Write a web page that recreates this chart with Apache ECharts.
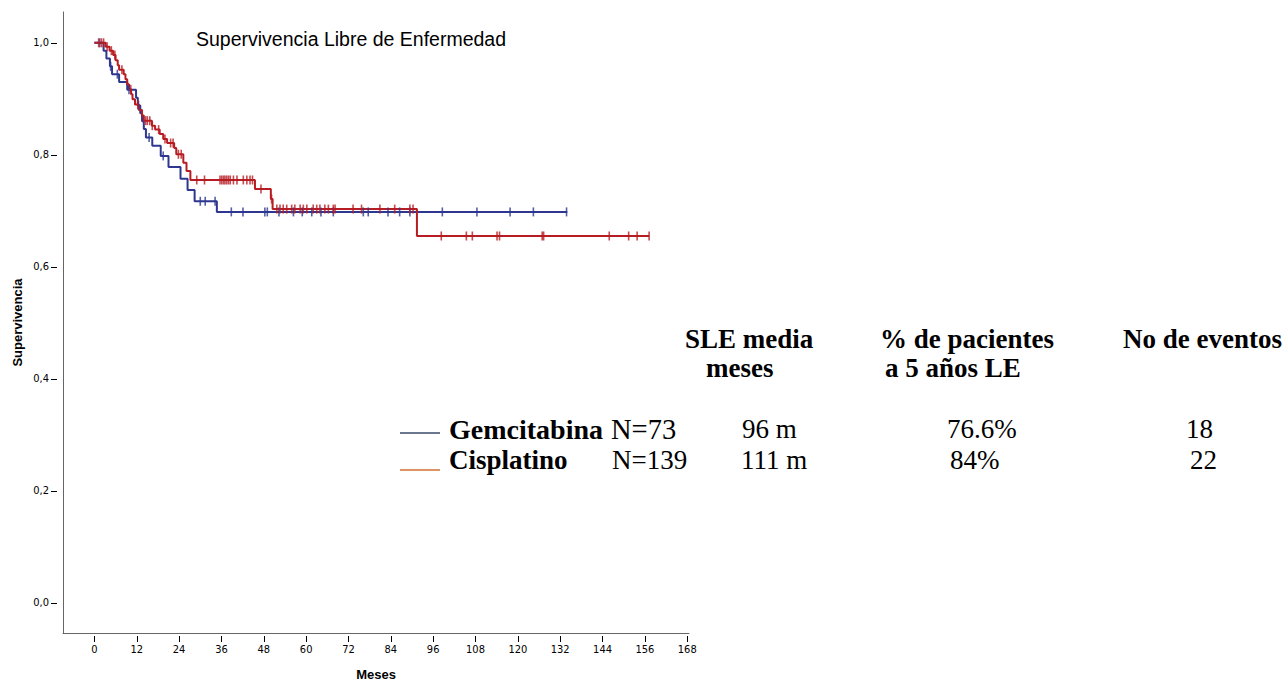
<!DOCTYPE html>
<html>
<head>
<meta charset="utf-8">
<script src="https://cdn.jsdelivr.net/npm/echarts@6.0.0/dist/echarts.min.js"></script>
<style>
html,body{margin:0;padding:0;background:#fff;overflow:hidden;}
#chart{width:1283px;height:683px;}
</style>
</head>
<body>
<div id="chart"></div>
<script>
// ---- data ----
const xTicks = [0, 12, 24, 36, 48, 60, 72, 84, 96, 108, 120, 132, 144, 156, 168];
const yTicks = [0, 0.2, 0.4, 0.6, 0.8, 1.0];

const chartTitle = 'Supervivencia Libre de Enfermedad';
const xTitle = 'Meses';
const yTitle = 'Supervivencia';

const groups = ['Gemcitabina', 'Cisplatino'];

// Gemcitabina KM steps (months, survival after drop)
const gemTimes = [0, 2.6, 3.4, 4.4, 5.0, 7.0, 9.3, 11.8, 12.3, 13.0, 13.5, 14.0, 14.6, 16.4, 18.8, 21.0, 24.4, 26.4, 28.4, 34.7, 134.0];
const gemSurv  = [1.0, 0.986, 0.972, 0.958, 0.944, 0.930, 0.916, 0.902, 0.888, 0.874, 0.860, 0.846, 0.831, 0.816, 0.798, 0.778, 0.757, 0.737, 0.717, 0.698, 0.698];
const gemCensor = [1.5, 4.6, 6.5, 9.8, 12.5, 15.5, 19.5, 30.0, 31.4, 34.2, 38.8, 42.1, 48.3, 49.0, 52.3, 56.4, 58.9, 61.6, 64.2, 67.7, 76.2, 77.6, 83.2, 86.5, 89.4, 98.6, 108.4, 117.8, 124.4, 133.8];

// Cisplatino KM steps
const cisTimes = [0, 3.2, 4.3, 5.3, 6.0, 6.6, 7.0, 8.3, 8.8, 9.3, 9.8, 10.4, 10.8, 11.5, 12.6, 13.5, 14.0, 16.3, 17.2, 18.5, 19.5, 20.6, 22.6, 23.2, 25.2, 26.1, 27.2, 45.5, 50.0, 50.5, 91.4, 157.2];
const cisSurv  = [1.0, 0.993, 0.986, 0.978, 0.969, 0.960, 0.952, 0.944, 0.935, 0.926, 0.917, 0.908, 0.899, 0.890, 0.880, 0.870, 0.861, 0.852, 0.845, 0.837, 0.828, 0.821, 0.812, 0.801, 0.786, 0.771, 0.755, 0.739, 0.721, 0.703, 0.655, 0.655];
const cisCensor = [1.2, 2.0, 2.6, 3.6, 4.8, 5.8, 7.8, 10.3, 12.3, 14.5, 15.0, 15.7, 16.4, 18.2, 20.0, 21.6, 22.3, 23.8, 24.6,
  29.0, 31.2, 35.6, 36.1, 36.6, 37.0, 37.5, 38.0, 38.5, 39.4, 40.4, 42.2, 43.2, 44.1, 44.8, 47.2, 50.2,
  51.7, 52.6, 53.5, 54.5, 55.9, 56.8, 58.3, 59.2, 60.2, 62.0, 63.0, 63.9, 65.3, 66.3, 67.7, 68.2, 73.3, 75.7, 80.9, 85.1, 89.4, 90.3,
  98.3, 105.4, 107.1, 114.1, 114.8, 126.9, 127.3, 145.9, 151.4, 153.8, 157.2];

// table
const tableHeadersL1 = ['SLE media', '% de pacientes', 'No de eventos'];
const tableHeadersL2 = ['meses', 'a 5 años LE', ''];
const nLabels = ['N=73', 'N=139'];
const sleMedia = ['96 m', '111 m'];
const pct5y = ['76.6%', '84%'];
const events = ['18', '22'];

// ---- build ----
const BLUE = '#2e3790';
const RED = '#b71c22';

function stepData(t, s) { return t.map((v, i) => [v, s[i]]); }
function survAt(t, s, x) {
  let v = s[0];
  for (let i = 0; i < t.length; i++) { if (t[i] <= x) v = s[i]; }
  return v;
}
function censorData(t, s, c) { return c.map(x => [x, survAt(t, s, x)]); }

const chart = echarts.init(document.getElementById('chart'), null, {renderer: 'svg'});

const tickFont = '"Liberation Sans Narrow","DejaVu Sans Condensed","Liberation Sans",Arial,sans-serif';
const serif = '"Liberation Serif","Times New Roman",serif';

const X_MIN = -8.9, X_MAX = 168.5, Y_MIN = -0.054, Y_MAX = 1.055;

function txt(x, y, text, size, bold, align) {
  return {type: 'text', x: x, y: y, style: {text: text, fill: '#000', font: (bold ? 'bold ' : '') + size + 'px ' + serif, align: align || 'left', verticalAlign: 'middle'}};
}

const FS = 27;
const graphics = [];
// headers
const hdrX = [685, 880, 1123];
const hdrX2 = [706, 885, 1123];
tableHeadersL1.forEach((h, i) => graphics.push(txt(hdrX[i], 339, h, FS, true)));
tableHeadersL2.forEach((h, i) => { if (h) graphics.push(txt(hdrX2[i], 368, h, FS, true)); });
// rows
const rowY = [429, 460];
const lineY = [433, 470];
const colors = [ '#3a4a6a', '#d2702e'];
groups.forEach((g, i) => {
  graphics.push({type: 'line', shape: {x1: 400, y1: lineY[i], x2: 440, y2: lineY[i]}, style: {stroke: colors[i], lineWidth: 1.5}});
  graphics.push(txt(449, rowY[i], g, i === 0 ? 28 : FS, true));
  graphics.push(txt(i === 0 ? 611 : 612, rowY[i], nLabels[i], i === 0 ? 28.5 : FS, false));
  graphics.push(txt(i === 0 ? 742 : 741, rowY[i], sleMedia[i], FS, false));
  graphics.push(txt(i === 0 ? 947 : 950, rowY[i], pct5y[i], FS, false));
  graphics.push(txt(i === 0 ? 1186 : 1190, rowY[i], events[i], FS, false));
});
// chart title
graphics.push({type: 'text', x: 196, y: 39, style: {text: chartTitle, fill: '#000', font: '19.5px "Liberation Sans",Arial,sans-serif', align: 'left', verticalAlign: 'middle'}});

const option = {
  animation: false,
  backgroundColor: '#fff',
  grid: {left: 63, right: 594, top: 12, bottom: 50, containLabel: false, outerBoundsMode: 'none'},
  xAxis: [
    {type: 'value', min: X_MIN, max: X_MAX, splitLine: {show: false},
     axisLine: {show: true, onZero: false, lineStyle: {color: '#666', width: 1}},
     axisTick: {show: false}, axisLabel: {show: false},
     name: xTitle, nameLocation: 'middle', nameGap: 35,
     nameTextStyle: {fontFamily: '"Liberation Sans",Arial,sans-serif', fontWeight: 'bold', fontSize: 13, color: '#000'}},
    {type: 'value', min: X_MIN, max: X_MAX, position: 'bottom', offset: 3, splitLine: {show: false},
     axisLine: {show: false, onZero: false},
     axisTick: {show: true, length: 6, customValues: xTicks, lineStyle: {color: '#000'}},
     axisLabel: {show: true, customValues: xTicks, margin: 8, fontFamily: tickFont, fontSize: 11, color: '#000',
       formatter: v => String(v)}}
  ],
  yAxis: [
    {type: 'value', min: Y_MIN, max: Y_MAX, splitLine: {show: false},
     axisLine: {show: true, onZero: false, lineStyle: {color: '#666', width: 1}},
     axisTick: {show: false}, axisLabel: {show: false},
     name: yTitle, nameLocation: 'middle', nameGap: 39, nameRotate: 90,
     nameTextStyle: {fontFamily: '"Liberation Sans",Arial,sans-serif', fontWeight: 'bold', fontSize: 13, color: '#000'}},
    {type: 'value', min: Y_MIN, max: Y_MAX, position: 'left', offset: 6, splitLine: {show: false},
     axisLine: {show: false, onZero: false},
     axisTick: {show: true, length: 6, customValues: yTicks, lineStyle: {color: '#000'}},
     axisLabel: {show: true, customValues: yTicks, margin: 8, fontFamily: tickFont, fontSize: 11, color: '#000',
       formatter: v => v.toFixed(1).replace('.', ',')}}
  ],
  series: [
    {name: groups[0], type: 'line', step: 'end', xAxisIndex: 0, yAxisIndex: 0, showSymbol: false, symbol: 'none',
     data: stepData(gemTimes, gemSurv), lineStyle: {color: BLUE, width: 2}, z: 3},
    {name: groups[1], type: 'line', step: 'end', xAxisIndex: 0, yAxisIndex: 0, showSymbol: false, symbol: 'none',
     data: stepData(cisTimes, cisSurv), lineStyle: {color: RED, width: 2}, z: 4},
    {name: groups[0] + ' censurado', type: 'scatter', xAxisIndex: 0, yAxisIndex: 0, symbol: 'rect', symbolSize: [1.6, 9],
     data: censorData(gemTimes, gemSurv, gemCensor), itemStyle: {color: BLUE}, z: 5},
    {name: groups[1] + ' censurado', type: 'scatter', xAxisIndex: 0, yAxisIndex: 0, symbol: 'rect', symbolSize: [1.6, 9],
     data: censorData(cisTimes, cisSurv, cisCensor), itemStyle: {color: RED}, z: 6}
  ],
  graphic: graphics
};
chart.setOption(option);
</script>
</body>
</html>
